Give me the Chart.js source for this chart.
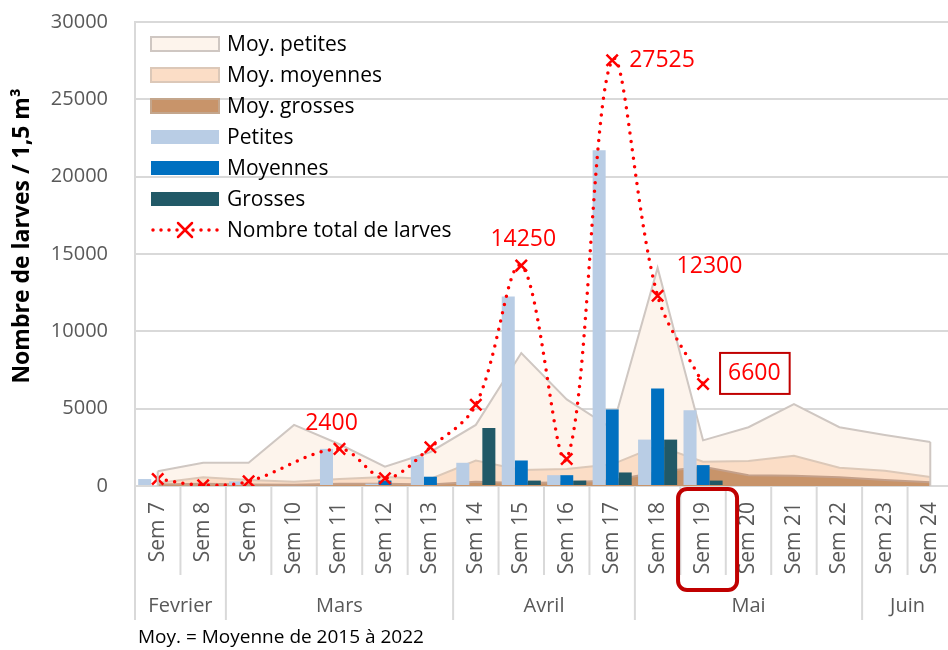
<!DOCTYPE html>
<html>
<head>
<meta charset="utf-8">
<script src="https://cdn.jsdelivr.net/npm/chart.js@4.4.1/dist/chart.umd.min.js"></script>
<style>
  html, body { margin: 0; padding: 0; background: #fff; overflow: hidden; }
  #wrap { width: 948px; height: 650px; position: relative; overflow: hidden; }
</style>
</head>
<body>
<div id="wrap"><canvas id="larvesChart" width="953" height="650"></canvas></div>
<script>
// categories
const weeks = ['Sem 7','Sem 8','Sem 9','Sem 10','Sem 11','Sem 12','Sem 13','Sem 14','Sem 15',
               'Sem 16','Sem 17','Sem 18','Sem 19','Sem 20','Sem 21','Sem 22','Sem 23','Sem 24'];
const months = ['Fevrier','Mars','Avril','Mai','Juin'];
const monthSpans = [2, 5, 4, 5, 2];

// moyennes 2015-2022 (areas)
const moyPetites  = [950,1500,1500,3950,2700,1250,2200,3950,8600,5600,3700,14100,2950,3800,5300,3800,3300,2850];
const moyMoyennes = [200,560,390,280,450,580,450,1640,1030,1100,1400,2600,1570,1620,1960,1180,990,580];
const moyGrosses  = [100,150,100,80,150,150,100,280,200,250,350,900,1250,700,670,560,390,240];

// 2022 (bars)
const petites  = [450,50,300,null,2400,150,1900,1500,12250,700,21700,3000,4900,null,null,null,null,null];
const moyennes = [0,0,0,null,0,350,600,0,1650,700,4950,6300,1350,null,null,null,null,null];
const grosses  = [0,0,0,null,0,0,0,3750,350,350,875,3000,350,null,null,null,null,null];

// total line
const totalLarves = [450,50,300,null,2400,500,2500,5250,14250,1750,27525,12300,6600,null,null,null,null,null];
const labelledWeeks = [4, 8, 10, 11, 12];
const labelPlace = [
  {mode: 'center', dx: -8, dy: -25},
  {mode: 'center', dx: 2, dy: -26},
  {mode: 'left', dx: 17, dy: 0},
  {mode: 'left', dx: 19, dy: -29},
  {mode: 'box', dx: 17, dy: -10}
];

const FONT = "'Open Sans', sans-serif";
const GREY_TXT = '#595959';
const GRID = '#D9D9D9';
const RED = '#FF0000';

const legendItems = [
  {text: 'Moy. petites', kind: 'area', fill: '#FDF4EC', stroke: '#CFC7C2'},
  {text: 'Moy. moyennes', kind: 'area', fill: '#FBDDC6', stroke: '#DCC8B8'},
  {text: 'Moy. grosses', kind: 'area', fill: '#C8946A', stroke: '#C4A68C'},
  {text: 'Petites', kind: 'bar', fill: '#B9CDE5'},
  {text: 'Moyennes', kind: 'bar', fill: '#0070C0'},
  {text: 'Grosses', kind: 'bar', fill: '#215967'},
  {text: 'Nombre total de larves', kind: 'line'}
];

function drawCross(ctx, cx, cy, r) {
  ctx.beginPath();
  ctx.moveTo(cx - r, cy - r); ctx.lineTo(cx + r, cy + r);
  ctx.moveTo(cx + r, cy - r); ctx.lineTo(cx - r, cy + r);
  ctx.stroke();
}

const decor = {
  id: 'decor',
  afterDatasetsDraw(chart) {
    // closing edges of the "Moy. petites" area
    const {ctx, scales: {y}} = chart;
    const pts = chart.getDatasetMeta(0).data;
    const base = y.getPixelForValue(0);
    ctx.save();
    ctx.strokeStyle = '#CFC7C2';
    ctx.lineWidth = 2;
    [pts[0], pts[pts.length - 1]].forEach(p => {
      ctx.beginPath(); ctx.moveTo(p.x, p.y); ctx.lineTo(p.x, base); ctx.stroke();
    });
    ctx.restore();
  },
  afterDraw(chart) {
    const {ctx, chartArea: a, scales: {x}} = chart;
    ctx.save();
    ctx.strokeStyle = GRID;
    ctx.lineWidth = 2;

    // separators under the axis
    const half = (x.getPixelForValue(1) - x.getPixelForValue(0)) / 2;
    const bounds = [0];
    monthSpans.reduce((s, n) => { bounds.push(s + n); return s + n; }, 0);
    for (let i = 0; i <= weeks.length; i++) {
      const px = x.getPixelForValue(0) - half + i * 2 * half;
      const long = bounds.includes(i);
      ctx.beginPath();
      ctx.moveTo(px, a.bottom);
      ctx.lineTo(px, a.bottom + (long ? 134 : 89));
      ctx.stroke();
    }

    // month labels
    ctx.fillStyle = GREY_TXT;
    ctx.font = '20px ' + FONT;
    ctx.textAlign = 'center';
    ctx.textBaseline = 'middle';
    let start = 0;
    months.forEach((m, k) => {
      const end = start + monthSpans[k];
      const cx = x.getPixelForValue(0) - half + (start + end) * half;
      ctx.fillText(m, cx, a.bottom + 120);
      start = end;
    });

    // highlight box around Sem 19
    const hx = x.getPixelForValue(12);
    ctx.strokeStyle = '#C00000';
    ctx.lineWidth = 4;
    ctx.beginPath();
    ctx.roundRect(hx - 25, a.bottom + 3, 59, 101, 9);
    ctx.stroke();

    // y axis title
    ctx.save();
    ctx.translate(22, 236);
    ctx.rotate(-Math.PI / 2);
    ctx.fillStyle = '#000';
    ctx.font = 'bold 23px ' + FONT;
    ctx.textAlign = 'center';
    ctx.textBaseline = 'middle';
    ctx.fillText('Nombre de larves / 1,5 m³', 0, 0);
    ctx.restore();

    // footnote
    ctx.fillStyle = '#000';
    ctx.font = '19px ' + FONT;
    ctx.textAlign = 'left';
    ctx.textBaseline = 'middle';
    ctx.fillText('Moy. = Moyenne de 2015 à 2022', 138, 638);

    // data labels on the total line
    const linePts = chart.getDatasetMeta(6).data;
    ctx.font = '23px ' + FONT;
    ctx.fillStyle = RED;
    labelledWeeks.forEach((i, k) => {
      const p = linePts[i];
      const txt = String(totalLarves[i]);
      const lp = labelPlace[k];
      if (lp.mode === 'center') {
        ctx.textAlign = 'center';
        ctx.fillText(txt, p.x + lp.dx, p.y + lp.dy);
      } else if (lp.mode === 'left') {
        ctx.textAlign = 'left';
        ctx.fillText(txt, p.x + lp.dx, p.y + lp.dy);
      } else {
        ctx.textAlign = 'left';
        const w = ctx.measureText(txt).width;
        ctx.fillText(txt, p.x + lp.dx + 8, p.y + lp.dy);
        ctx.strokeStyle = '#C00000';
        ctx.lineWidth = 2;
        ctx.strokeRect(p.x + lp.dx, p.y + lp.dy - 21, w + 17, 41);
      }
    });

    // legend inside the plot
    ctx.font = '21px ' + FONT;
    ctx.textAlign = 'left';
    ctx.textBaseline = 'middle';
    legendItems.forEach((it, k) => {
      const cy = a.top + 22 + k * 31;
      const sx = a.left + 16;
      if (it.kind === 'area') {
        ctx.fillStyle = it.fill;
        ctx.fillRect(sx, cy - 7, 68, 14);
        ctx.strokeStyle = it.stroke;
        ctx.lineWidth = 2;
        ctx.strokeRect(sx, cy - 7, 68, 14);
      } else if (it.kind === 'bar') {
        ctx.fillStyle = it.fill;
        ctx.fillRect(sx, cy - 7, 68, 14);
      } else {
        ctx.strokeStyle = RED;
        ctx.lineWidth = 3.5;
        ctx.lineCap = 'round';
        ctx.setLineDash([0, 8]);
        ctx.beginPath(); ctx.moveTo(sx + 2, cy); ctx.lineTo(sx + 68, cy); ctx.stroke();
        ctx.setLineDash([]);
        ctx.lineWidth = 2.5;
        drawCross(ctx, sx + 34, cy, 7);
      }
      ctx.fillStyle = '#000';
      ctx.fillText(it.text, sx + 76, cy + 1);
    });

    ctx.restore();
  }
};

const areaDs = (label, data, fill, stroke, order) => ({
  type: 'line', label, data, order,
  backgroundColor: fill, borderColor: stroke, borderWidth: 2,
  fill: 'origin', pointRadius: 0, tension: 0
});
const barDs = (label, data, color) => ({
  type: 'bar', label, data, order: 1,
  backgroundColor: color, borderWidth: 0,
  categoryPercentage: 0.86, barPercentage: 1.0
});

new Chart(document.getElementById('larvesChart'), {
  data: {
    labels: weeks,
    datasets: [
      areaDs('Moy. petites', moyPetites, '#FDF4EC', '#CFC7C2', 4),
      areaDs('Moy. moyennes', moyMoyennes, '#FBDDC6', '#DCC8B8', 3),
      areaDs('Moy. grosses', moyGrosses, '#C8946A', '#C4A08A', 2),
      barDs('Petites', petites, '#B9CDE5'),
      barDs('Moyennes', moyennes, '#0070C0'),
      barDs('Grosses', grosses, '#215967'),
      {
        type: 'line', label: 'Nombre total de larves', data: totalLarves, order: 0,
        borderColor: RED, borderWidth: 3.5, borderDash: [0, 8.5], borderCapStyle: 'round',
        fill: false, tension: 0.35, spanGaps: true,
        pointStyle: 'crossRot', pointRadius: 8, pointBorderWidth: 2.5,
        pointBorderColor: RED, pointBackgroundColor: RED
      }
    ]
  },
  options: {
    responsive: false,
    animation: false,
    devicePixelRatio: 1,
    layout: { autoPadding: false, padding: { top: 22, right: 0, left: 0, bottom: 0 } },
    plugins: { legend: { display: false }, tooltip: { enabled: false } },
    scales: {
      x: {
        type: 'category',
        offset: true,
        grid: { display: false },
        border: { display: false },
        ticks: {
          color: GREY_TXT, font: { family: FONT, size: 21 },
          minRotation: 90, maxRotation: 90, padding: 8, autoSkip: false
        },
        afterFit: s => { s.height = 164; s.paddingLeft = 0; s.paddingRight = 0; }
      },
      y: {
        min: 0, max: 30000,
        grid: { color: GRID, lineWidth: 2, drawTicks: false },
        border: { color: GRID, width: 2 },
        ticks: {
          stepSize: 5000, color: GREY_TXT, font: { family: FONT, size: 20 }, padding: 27,
          callback: v => String(v)
        },
        afterFit: s => { s.width = 135; s.paddingTop = 0; s.paddingBottom = 0; }
      }
    }
  },
  plugins: [decor]
});
</script>
</body>
</html>
